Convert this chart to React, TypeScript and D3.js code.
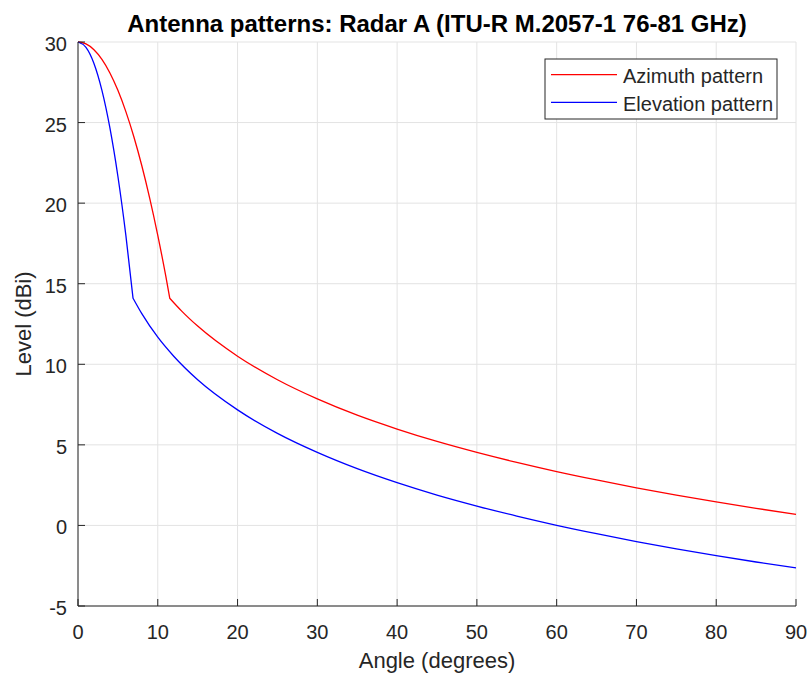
import React from "react";
import * as d3 from "d3";

const azAngles = [0, 1, 2, 3, 4, 5, 6, 7, 8, 9, 10, 11, 11.5, 13, 15, 20, 25, 30, 35, 40, 45, 50, 55, 60, 65, 70, 75, 80, 85, 90];
const azLevels = [30, 29.88, 29.52, 28.92, 28.08, 27.0, 25.68, 24.12, 22.32, 20.28, 18.0, 15.48, 14.1, 13.3, 12.37, 10.5, 9.04, 7.85, 6.84, 5.98, 5.21, 4.53, 3.91, 3.34, 2.82, 2.33, 1.88, 1.46, 1.06, 0.69];

const elAngles = [0, 1, 2, 3, 4, 5, 6, 6.9, 8, 10, 12, 15, 20, 25, 30, 35, 40, 45, 50, 55, 60, 65, 70, 75, 80, 85, 90];
const elLevels = [30, 29.67, 28.67, 27.0, 24.67, 21.67, 18.0, 14.1, 13.14, 11.68, 10.5, 9.04, 7.17, 5.71, 4.53, 3.52, 2.65, 1.88, 1.2, 0.58, 0.01, -0.51, -1.0, -1.45, -1.87, -2.27, -2.64];

const xTicks = [0, 10, 20, 30, 40, 50, 60, 70, 80, 90];
const yTicks = [-5, 0, 5, 10, 15, 20, 25, 30];

const seriesNames = ["Azimuth pattern", "Elevation pattern"];
const seriesColors = ["#ff0000", "#0000ff"];

export default function App() {
  const W = 811, H = 677;
  const left = 78, right = 796, top = 42, bottom = 606;
  const x = d3.scaleLinear().domain([0, 90]).range([left, right]);
  const y = d3.scaleLinear().domain([-5, 30]).range([bottom, top]);
  const font = "'Liberation Sans', Arial, sans-serif";
  const txt = "#262626";

  const mk = (xs: number[], ys: number[], kink: number) => {
    const pts = xs.map((a, i) => [a, ys[i]] as [number, number]);
    const k = xs.indexOf(kink);
    const gen = d3.line<[number, number]>().x(d => x(d[0])).y(d => y(d[1])).curve(d3.curveMonotoneX);
    const a = gen(pts.slice(0, k + 1)) || "";
    const b = gen(pts.slice(k)) || "";
    return a + b.replace(/^M/, "L");
  };
  const paths = [mk(azAngles, azLevels, 11.5), mk(elAngles, elLevels, 6.9)];

  const grid = "#e3e3e3";
  return (
    <svg width={W} height={H} style={{ position: "absolute", left: 0, top: 0, background: "#fff" }} fontFamily={font}>
      <rect x={0} y={0} width={W} height={H} fill="#fff" />
      {xTicks.map(t => (
        <line key={"gx" + t} x1={x(t)} x2={x(t)} y1={top} y2={bottom} stroke={grid} strokeWidth={1} />
      ))}
      {yTicks.map(t => (
        <line key={"gy" + t} x1={left} x2={right} y1={y(t)} y2={y(t)} stroke={grid} strokeWidth={1} />
      ))}
      {paths.map((p, i) => (
        <path key={i} d={p} fill="none" stroke={seriesColors[i]} strokeWidth={1.3} />
      ))}
      <line x1={left} x2={left} y1={top} y2={bottom} stroke={txt} strokeWidth={1} />
      <line x1={left} x2={right} y1={bottom} y2={bottom} stroke={txt} strokeWidth={1} />
      {xTicks.map(t => (
        <g key={"tx" + t}>
          <line x1={x(t)} x2={x(t)} y1={bottom} y2={bottom - 7} stroke={txt} />
          <text x={x(t)} y={bottom + 33} textAnchor="middle" fontSize={20} fill={txt}>{t}</text>
        </g>
      ))}
      {yTicks.map(t => (
        <g key={"ty" + t}>
          <line x1={left} x2={left + 7} y1={y(t)} y2={y(t)} stroke={txt} />
          <text x={left - 11} y={y(t) + 9} textAnchor="end" fontSize={20} fill={txt}>{t}</text>
        </g>
      ))}
      <text x={(left + right) / 2} y={32} textAnchor="middle" fontSize={24} fontWeight="bold" fill="#000">
        Antenna patterns: Radar A (ITU-R M.2057-1 76-81 GHz)
      </text>
      <text x={(left + right) / 2} y={668} textAnchor="middle" fontSize={22} fill={txt}>Angle (degrees)</text>
      <text transform={`translate(31,${(top + bottom) / 2}) rotate(-90)`} textAnchor="middle" fontSize={22} fill={txt}>Level (dBi)</text>
      <g>
        <rect x={545} y={59} width={232} height={60} fill="#fff" stroke={txt} strokeWidth={1} />
        {seriesNames.map((n, i) => (
          <g key={n}>
            <line x1={551} x2={617} y1={74.7 + i * 27.6} y2={74.7 + i * 27.6} stroke={seriesColors[i]} strokeWidth={1.3} />
            <text x={623} y={83.3 + i * 27.6} fontSize={20} fill={txt}>{n}</text>
          </g>
        ))}
      </g>
    </svg>
  );
}
